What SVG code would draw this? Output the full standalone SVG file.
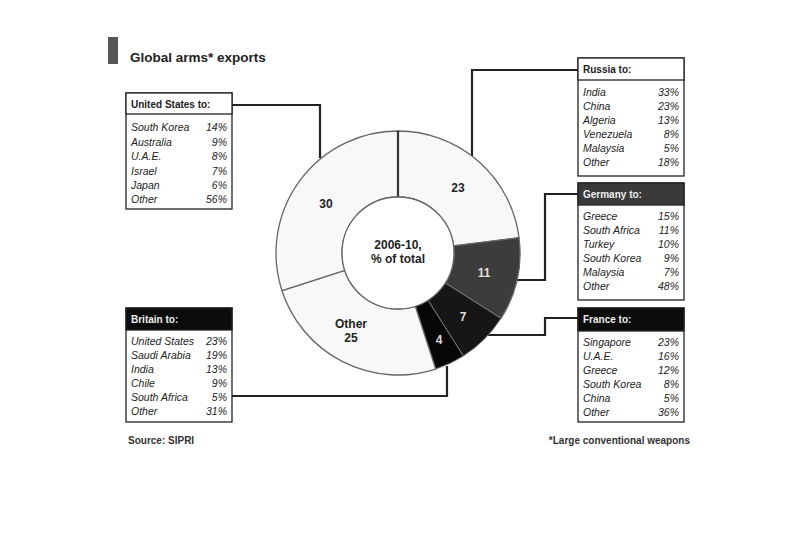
<svg xmlns="http://www.w3.org/2000/svg" width="810" height="548" viewBox="0 0 810 548">
<style>
.box{fill:#fff;stroke:#222;stroke-width:1.3}
.hdr-l{fill:#fff;stroke:#222;stroke-width:1.3}
.hdr-g{fill:#3a3a3a;stroke:#222;stroke-width:1.3}
.hdr-d{fill:#0c0c0c;stroke:#222;stroke-width:1.3}
.ht{font-family:"Liberation Sans",Arial,sans-serif;font-size:10px;font-weight:bold;fill:#222}
.htw{font-family:"Liberation Sans",Arial,sans-serif;font-size:10px;font-weight:bold;fill:#eee}
.it{font-family:"Liberation Sans",Arial,sans-serif;font-size:10.5px;font-style:italic;fill:#222}
.pc{font-family:"Liberation Sans",Arial,sans-serif;font-size:10.5px;font-style:italic;fill:#222;text-anchor:end}
.seg-l{fill:#f8f8f8;stroke:#666;stroke-width:1.3}
.lbl{font-family:"Liberation Sans",Arial,sans-serif;font-size:12px;font-weight:bold;fill:#222;text-anchor:middle}
.lblw{font-family:"Liberation Sans",Arial,sans-serif;font-size:12px;font-weight:bold;fill:#ddd;text-anchor:middle}
.ft{font-family:"Liberation Sans",Arial,sans-serif;font-size:10px;font-weight:bold;fill:#333}
.lead{fill:none;stroke:#222;stroke-width:2.2}
</style>
<rect width="810" height="548" fill="#fff"/>
<g id="title">
<rect x="108" y="37" width="10" height="27" fill="#555"/>
<text x="130" y="62" font-family="Liberation Sans, Arial, sans-serif" font-size="13.5" font-weight="bold" fill="#222">Global arms* exports</text>
</g>
<g id="connectors">
<path class="lead" d="M232,105 H320 V158"/>
<path class="lead" d="M578,70 H472 V156"/>
<path class="lead" d="M578,194 H545 V280 H517"/>
<path class="lead" d="M578,318 H545 V335 H488"/>
<path class="lead" d="M232,396 H447 V366"/>
</g>
<g id="donut">
<path class="seg-l" d="M398,131 A122,122 0 0 1 519.04,237.71 L453.56,245.98 A56,56 0 0 0 398,197 Z"/>
<path fill="#3c3c3c" stroke="#666" stroke-width="1.3" d="M519.04,237.71 A122,122 0 0 1 501.01,318.37 L445.28,283.01 A56,56 0 0 0 453.56,245.98 Z"/>
<path fill="#161616" stroke="#777" stroke-width="1" d="M501.01,318.37 A122,122 0 0 1 463.37,356.01 L428.01,300.28 A56,56 0 0 0 445.28,283.01 Z"/>
<path fill="#060606" stroke="#777" stroke-width="1" d="M463.37,356.01 A122,122 0 0 1 435.70,369.03 L415.31,306.26 A56,56 0 0 0 428.01,300.28 Z"/>
<path class="seg-l" d="M435.70,369.03 A122,122 0 0 1 281.97,290.70 L344.74,270.31 A56,56 0 0 0 415.31,306.26 Z"/>
<path class="seg-l" d="M281.97,290.70 A122,122 0 0 1 398,131 L398,197 A56,56 0 0 0 344.74,270.31 Z"/>
<line x1="398" y1="131" x2="398" y2="197" stroke="#333" stroke-width="2.2"/>
<circle cx="398" cy="253" r="56" fill="#fff" stroke="#666" stroke-width="1.3"/>
<text class="lbl" x="398" y="249">2006-10,</text>
<text class="lbl" x="398" y="263">% of total</text>
<text class="lbl" x="326" y="208">30</text>
<text class="lbl" x="458" y="192">23</text>
<text class="lblw" x="484" y="277">11</text>
<text class="lblw" x="463" y="321">7</text>
<text class="lblw" x="439" y="344">4</text>
<text class="lbl" x="351" y="328">Other</text>
<text class="lbl" x="351" y="342">25</text>
</g>
<g id="us">
<rect class="box" x="126" y="93" width="106" height="116"/>
<rect class="hdr-l" x="126" y="93" width="106" height="21"/>
<text class="ht" x="131" y="108">United States to:</text>
<text class="it" x="131" y="131">South Korea</text><text class="pc" x="227" y="131">14%</text>
<text class="it" x="131" y="146">Australia</text><text class="pc" x="227" y="146">9%</text>
<text class="it" x="131" y="160">U.A.E.</text><text class="pc" x="227" y="160">8%</text>
<text class="it" x="131" y="175">Israel</text><text class="pc" x="227" y="175">7%</text>
<text class="it" x="131" y="189">Japan</text><text class="pc" x="227" y="189">6%</text>
<text class="it" x="131" y="203">Other</text><text class="pc" x="227" y="203">56%</text>
</g>
<g id="russia">
<rect class="box" x="578" y="58" width="106" height="118"/>
<rect class="hdr-l" x="578" y="58" width="106" height="22"/>
<text class="ht" x="583" y="73">Russia to:</text>
<text class="it" x="583" y="96">India</text><text class="pc" x="679" y="96">33%</text>
<text class="it" x="583" y="110">China</text><text class="pc" x="679" y="110">23%</text>
<text class="it" x="583" y="124">Algeria</text><text class="pc" x="679" y="124">13%</text>
<text class="it" x="583" y="138">Venezuela</text><text class="pc" x="679" y="138">8%</text>
<text class="it" x="583" y="152">Malaysia</text><text class="pc" x="679" y="152">5%</text>
<text class="it" x="583" y="166">Other</text><text class="pc" x="679" y="166">18%</text>
</g>
<g id="germany">
<rect class="box" x="578" y="183" width="106" height="117"/>
<rect class="hdr-g" x="578" y="183" width="106" height="22"/>
<text class="htw" x="583" y="198">Germany to:</text>
<text class="it" x="583" y="220">Greece</text><text class="pc" x="679" y="220">15%</text>
<text class="it" x="583" y="234">South Africa</text><text class="pc" x="679" y="234">11%</text>
<text class="it" x="583" y="248">Turkey</text><text class="pc" x="679" y="248">10%</text>
<text class="it" x="583" y="262">South Korea</text><text class="pc" x="679" y="262">9%</text>
<text class="it" x="583" y="276">Malaysia</text><text class="pc" x="679" y="276">7%</text>
<text class="it" x="583" y="290">Other</text><text class="pc" x="679" y="290">48%</text>
</g>
<g id="france">
<rect class="box" x="578" y="308" width="106" height="114"/>
<rect class="hdr-d" x="578" y="308" width="106" height="23"/>
<text class="htw" x="583" y="323">France to:</text>
<text class="it" x="583" y="346">Singapore</text><text class="pc" x="679" y="346">23%</text>
<text class="it" x="583" y="360">U.A.E.</text><text class="pc" x="679" y="360">16%</text>
<text class="it" x="583" y="374">Greece</text><text class="pc" x="679" y="374">12%</text>
<text class="it" x="583" y="388">South Korea</text><text class="pc" x="679" y="388">8%</text>
<text class="it" x="583" y="402">China</text><text class="pc" x="679" y="402">5%</text>
<text class="it" x="583" y="416">Other</text><text class="pc" x="679" y="416">36%</text>
</g>
<g id="britain">
<rect class="box" x="126" y="308" width="106" height="114"/>
<rect class="hdr-d" x="126" y="308" width="106" height="22"/>
<text class="htw" x="131" y="323">Britain to:</text>
<text class="it" x="131" y="345">United States</text><text class="pc" x="227" y="345">23%</text>
<text class="it" x="131" y="359">Saudi Arabia</text><text class="pc" x="227" y="359">19%</text>
<text class="it" x="131" y="373">India</text><text class="pc" x="227" y="373">13%</text>
<text class="it" x="131" y="387">Chile</text><text class="pc" x="227" y="387">9%</text>
<text class="it" x="131" y="401">South Africa</text><text class="pc" x="227" y="401">5%</text>
<text class="it" x="131" y="415">Other</text><text class="pc" x="227" y="415">31%</text>
</g>
<g id="footer">
<text class="ft" x="128" y="444">Source: SIPRI</text>
<text class="ft" x="690" y="444" text-anchor="end">*Large conventional weapons</text>
</g>
</svg>
